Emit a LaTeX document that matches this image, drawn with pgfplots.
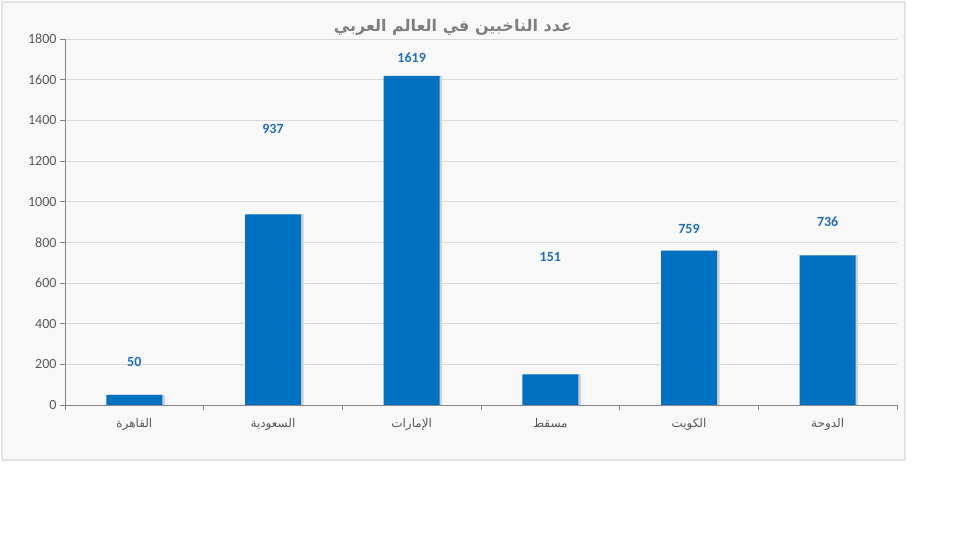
\documentclass[border=0pt]{standalone}
\usepackage{pgfplots}
\pgfplotsset{compat=1.18}
\usepackage{fontspec}
\setmainfont{Carlito}
\newfontfamily\arabicfont[Script=Arabic]{DejaVu Sans}
\TeXXeTstate=1
\definecolor{cbg}{HTML}{F8F8F8}
\definecolor{cborder}{HTML}{E3E3E3}
\definecolor{bar}{HTML}{0070C0}
\definecolor{lbl}{HTML}{1F6FB9}
\definecolor{tick}{HTML}{595959}
\definecolor{ttl}{HTML}{7F7F7F}
\definecolor{grid}{HTML}{D9D9D9}
\definecolor{axisline}{HTML}{868686}
\begin{document}
\begin{tikzpicture}[x=1bp,y=1bp]
\useasboundingbox (0,0) rectangle (960,540);
\fill[white] (0,0) rectangle (960,540);
\draw[line width=2bp, draw=cborder, fill=cbg] (2,80) rectangle (905,538);
\node[text=ttl, font={\arabicfont\bfseries\fontsize{16bp}{19bp}\selectfont}] at (453,513) {\beginR عدد الناخبين في العالم العربي\endR};
\begin{axis}[
  at={(65bp,135bp)}, anchor=south west,
  scale only axis, width=832bp, height=366bp,
  xmin=-0.5, xmax=5.5, ymin=0, ymax=1800,
  axis x line*=bottom, axis y line*=left,
  axis line style={draw=axisline, line width=0.8bp},
  ytick={0,200,...,1800},
  ymajorgrids, grid style={draw=grid, line width=0.8bp},
  xtick={0,1,2,3,4,5},
  xticklabels={{\beginR القاهرة\endR},{\beginR السعودية\endR},{\beginR الإمارات\endR},{\beginR مسقط\endR},{\beginR الكويت\endR},{\beginR الدوحة\endR}},
  major x tick style={draw=none},
  minor xtick={-0.5,0.5,...,5.5},
  minor x tick style={draw=axisline, line width=0.8bp},
  minor tick length=5bp,
  major tick length=5bp,
  tick align=outside,
  major y tick style={draw=axisline, line width=0.8bp},
  xticklabel style={font={\arabicfont\fontsize{12bp}{14bp}\selectfont}, text=tick, yshift=-5bp},
  yticklabel style={font={\fontsize{14bp}{16bp}\selectfont}, text=tick},
  /pgf/number format/assume math mode=true,
  /pgf/number format/1000 sep={},
  clip=false,
]
\addplot[ybar, bar width=56bp, fill=black!18, draw=none, bar shift=2.5bp, forget plot] coordinates {(0,50) (1,937) (2,1619) (3,151) (4,759) (5,736)};
\addplot[ybar, bar width=56bp, fill=bar, draw=none] coordinates {(0,50) (1,937) (2,1619) (3,151) (4,759) (5,736)};
\addplot[only marks, mark=none, nodes near coords, point meta=explicit symbolic,
  nodes near coords align=center,
  every node near coord/.append style={font={\bfseries\fontsize{14bp}{16bp}\selectfont}, text=lbl}]
  coordinates {(0,211) [50] (1,1357) [937] (2,1707) [1619] (3,728) [151] (4,866) [759] (5,900) [736]};
\end{axis}
\end{tikzpicture}
\end{document}
